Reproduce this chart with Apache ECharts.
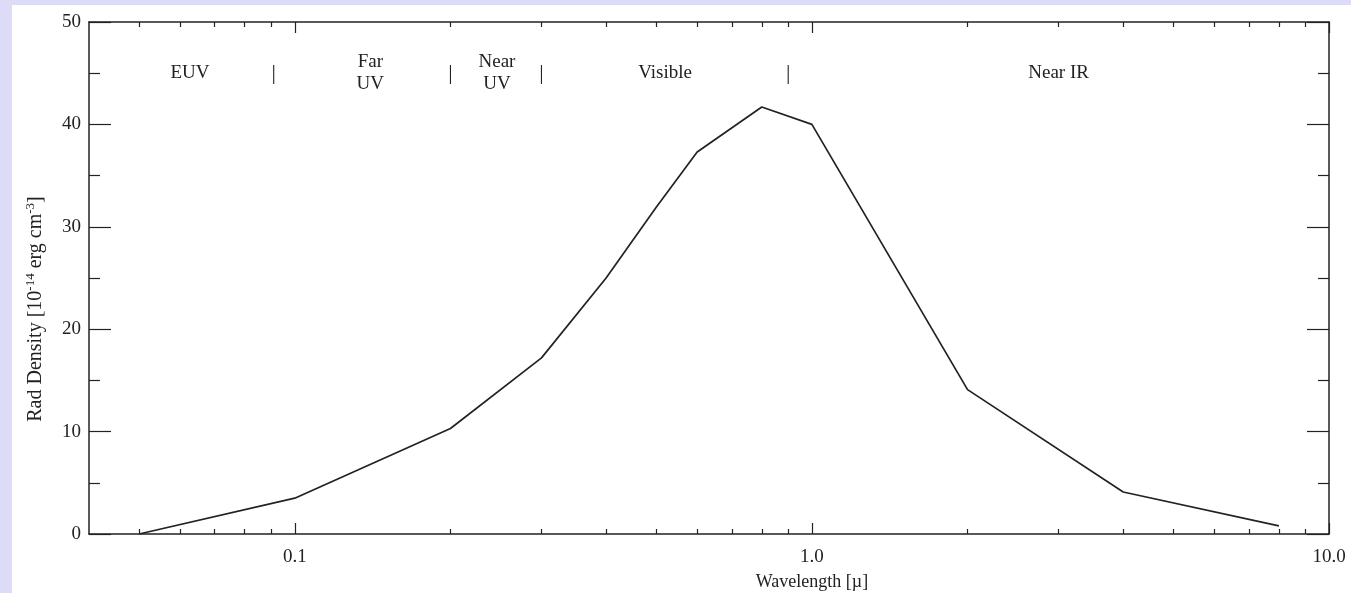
<!DOCTYPE html>
<html>
<head>
<meta charset="utf-8">
<script src="https://cdn.jsdelivr.net/npm/echarts@6/dist/echarts.min.js"></script>
<style>
  html, body { margin: 0; padding: 0; background: #dcdcf8; }
  #chart { position: absolute; left: 12px; top: 5px; width: 1339px; height: 588px; background: #fff; }
</style>
</head>
<body>
<div id="chart"></div>
<script>
// spectrum
const wavelength = [0.05, 0.1, 0.2, 0.3, 0.4, 0.5, 0.6, 0.8, 1.0, 2.0, 4.0, 8.0];
const radDensity = [0, 3.5, 10.3, 17.2, 25.0, 31.9, 37.3, 41.7, 40.0, 14.1, 4.1, 0.8];

// axis ticks
const xMajorTicks = [0.1, 1, 10];
const xMinorTicks = [0.05, 0.06, 0.07, 0.08, 0.09,
  0.2, 0.3, 0.4, 0.5, 0.6, 0.7, 0.8, 0.9,
  2, 3, 4, 5, 6, 7, 8, 9];

// band annotations along the top
const bandNames = ['EUV', 'Far\nUV', 'Near\nUV', 'Visible', 'Near IR'];
const bandCenters = [0.0627, 0.14, 0.246, 0.52, 3.0];
const bandEdges = [0.091, 0.2, 0.3, 0.9];
const bandLevel = 45.0;

const serif = 'Liberation Serif, Times New Roman, serif';
const ink = '#222';

const chart = echarts.init(document.getElementById('chart'));

function logAxis(pos, ticks, len, withLine, withLabel) {
  return {
    type: 'log',
    logBase: 10,
    position: pos,
    min: 0.04,
    max: 10,
    axisLine: { show: withLine, onZero: false, lineStyle: { color: ink, width: 1.5 } },
    axisTick: { show: true, inside: true, length: len, customValues: ticks, lineStyle: { color: ink, width: 1.2 } },
    axisLabel: withLabel ? {
      show: true, customValues: xMajorTicks, margin: 14,
      fontFamily: serif, fontSize: 19, color: ink,
      formatter: v => Number(v).toFixed(1)
    } : { show: false },
    splitLine: { show: false },
    minorTick: { show: false }
  };
}

function valAxis(pos, withLabel) {
  return {
    type: 'value',
    position: pos,
    min: 0,
    max: 50,
    interval: 10,
    axisLine: { show: true, lineStyle: { color: ink, width: 1.5 } },
    axisTick: { show: true, inside: true, length: 22, lineStyle: { color: ink, width: 1.2 } },
    minorTick: { show: true, splitNumber: 2, length: 11, lineStyle: { color: ink, width: 1.2 } },
    axisLabel: withLabel ? { show: true, margin: 8, fontFamily: serif, fontSize: 19, color: ink } : { show: false },
    splitLine: { show: false },
    minorSplitLine: { show: false }
  };
}

chart.setOption({
  animation: false,
  grid: { left: 77, right: 22, top: 17, bottom: 59 },
  xAxis: [
    logAxis('bottom', xMajorTicks, 11, true, true),
    logAxis('bottom', xMinorTicks, 5, false, false),
    logAxis('top', xMajorTicks, 11, true, false),
    logAxis('top', xMinorTicks, 5, false, false)
  ],
  yAxis: [valAxis('left', true), valAxis('right', false)],
  series: [
    {
      type: 'line',
      data: wavelength.map((w, i) => [w, radDensity[i]]),
      symbol: 'none',
      lineStyle: { color: ink, width: 1.7 },
      silent: true
    },
    {
      type: 'scatter',
      data: bandCenters.map((c, i) => ({ name: bandNames[i], value: [c, bandLevel] })),
      symbolSize: 0,
      itemStyle: { color: ink },
      label: {
        show: true, position: 'inside', formatter: '{b}',
        fontFamily: serif, fontSize: 19, lineHeight: 22, color: ink, opacity: 1
      },
      silent: true
    },
    {
      type: 'scatter',
      data: bandEdges.map(e => [e, bandLevel]),
      symbolSize: 0,
      itemStyle: { color: ink },
      label: {
        show: true, position: 'inside', formatter: '|',
        fontFamily: serif, fontSize: 22, color: ink, opacity: 1
      },
      silent: true
    }
  ],
  graphic: [
    {
      type: 'text',
      x: 800, y: 577,
      style: {
        text: 'Wavelength [\u00b5]',
        font: '18px ' + serif,
        fill: ink,
        align: 'center',
        verticalAlign: 'middle'
      }
    },
    {
      type: 'text',
      x: 24, y: 304,
      rotation: Math.PI / 2,
      style: {
        text: '{n|Rad Density [10}{s|-14}{n| erg cm}{s|-3}{n|]}',
        align: 'center',
        verticalAlign: 'middle',
        fill: ink,
        rich: {
          n: { fontFamily: serif, fontSize: 20, fill: ink },
          s: { fontFamily: serif, fontSize: 13, fill: ink, padding: [0, 0, 11, 0] }
        }
      }
    }
  ]
});
</script>
</body>
</html>
